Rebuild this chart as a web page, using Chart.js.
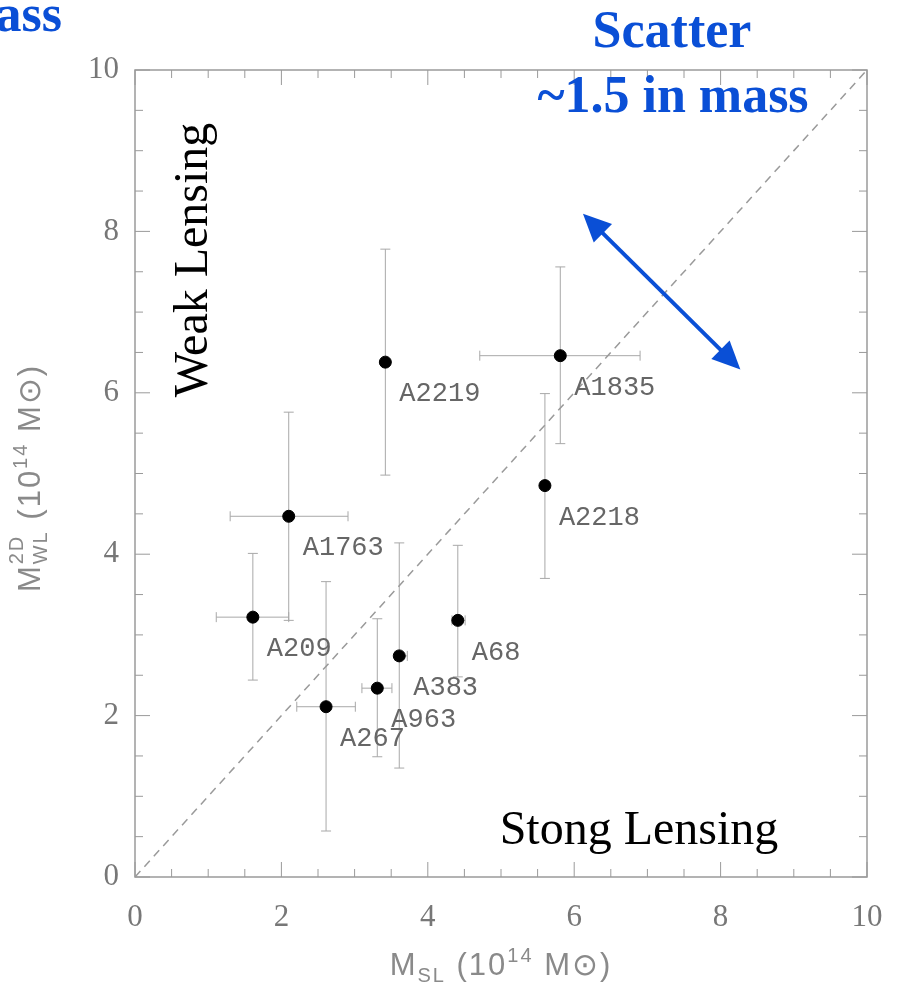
<!DOCTYPE html>
<html>
<head>
<meta charset="utf-8">
<script src="https://cdn.jsdelivr.net/npm/chart.js@4"></script>
<style>
  html, body { margin: 0; padding: 0; background: #fff; }
  #wrap { width: 905px; height: 983px; }
</style>
</head>
<body>
<div id="wrap"><canvas id="massChart" width="905" height="983"></canvas></div>
<script>
// Cluster masses (10^14 Msun): strong lensing (x) vs weak lensing 2D (y)
const clusters = ['A2219', 'A1835', 'A2218', 'A1763', 'A209', 'A68', 'A383', 'A963', 'A267'];
const mSL   = [3.42, 5.81, 5.60, 2.10, 1.61, 4.41, 3.61, 3.31, 2.61];
const mWL   = [6.38, 6.46, 4.85, 4.47, 3.22, 3.18, 2.74, 2.34, 2.11];
const mSLlo = [3.42, 4.71, 5.60, 1.30, 1.11, 4.33, 3.55, 3.10, 2.21];
const mSLhi = [3.42, 6.90, 5.60, 2.91, 2.10, 4.51, 3.72, 3.51, 3.01];
const mWLlo = [4.98, 5.37, 3.70, 3.18, 2.44, 2.48, 1.35, 1.49, 0.57];
const mWLhi = [7.78, 7.56, 5.99, 5.76, 4.01, 4.11, 4.14, 3.20, 3.66];
const axisTicks = [0, 2, 4, 6, 8, 10];
// one-to-one line and the scatter arrow, in data units
const unityLine = [[0, 0], [10, 10]];
const scatterArrow = [[6.12, 8.22], [8.27, 6.29]];

const BLUE = '#0a4fd6';
const GREY = '#9a9a9a';

const overlay = {
    id: 'overlay',
    beforeDatasetsDraw(chart) {
        const { ctx, chartArea: a, scales: { x, y } } = chart;
        ctx.save();
        // frame
        ctx.strokeStyle = GREY;
        ctx.lineWidth = 1.5;
        ctx.strokeRect(a.left, a.top, a.right - a.left, a.bottom - a.top);
        // inward ticks on all four sides, minor every 0.5
        ctx.lineWidth = 1;
        for (let v = 0; v <= 10; v += 0.5) {
            const len = v % 2 === 0 ? 15 : 8;
            const px = x.getPixelForValue(v);
            const py = y.getPixelForValue(v);
            ctx.beginPath();
            ctx.moveTo(px, a.bottom); ctx.lineTo(px, a.bottom - len);
            ctx.moveTo(px, a.top); ctx.lineTo(px, a.top + len);
            ctx.moveTo(a.left, py); ctx.lineTo(a.left + len, py);
            ctx.moveTo(a.right, py); ctx.lineTo(a.right - len, py);
            ctx.stroke();
        }
        // error bars
        ctx.strokeStyle = '#a8a8a8';
        clusters.forEach((name, i) => {
            const cx = x.getPixelForValue(mSL[i]);
            const cy = y.getPixelForValue(mWL[i]);
            const y0 = y.getPixelForValue(mWLlo[i]);
            const y1 = y.getPixelForValue(mWLhi[i]);
            ctx.beginPath();
            ctx.moveTo(cx, y0); ctx.lineTo(cx, y1);
            ctx.moveTo(cx - 5, y0); ctx.lineTo(cx + 5, y0);
            ctx.moveTo(cx - 5, y1); ctx.lineTo(cx + 5, y1);
            if (mSLhi[i] > mSLlo[i]) {
                const x0 = x.getPixelForValue(mSLlo[i]);
                const x1 = x.getPixelForValue(mSLhi[i]);
                ctx.moveTo(x0, cy); ctx.lineTo(x1, cy);
                ctx.moveTo(x0, cy - 5); ctx.lineTo(x0, cy + 5);
                ctx.moveTo(x1, cy - 5); ctx.lineTo(x1, cy + 5);
            }
            ctx.stroke();
        });
        ctx.restore();
    },
    afterDatasetsDraw(chart) {
        const { ctx, chartArea: a, scales: { x, y } } = chart;
        ctx.save();
        // cluster names
        ctx.fillStyle = '#666';
        ctx.font = '27px "Liberation Mono", monospace';
        ctx.textBaseline = 'middle';
        ctx.textAlign = 'left';
        clusters.forEach((name, i) => {
            ctx.fillText(name, x.getPixelForValue(mSL[i]) + 14, y.getPixelForValue(mWL[i]) + 32);
        });

        // axis titles
        ctx.fillStyle = '#8a8a8a';
        drawMathTitle(ctx, (a.left + a.right) / 2, 975, 'SL', null);
        ctx.save();
        ctx.translate(40, 478);
        ctx.rotate(-Math.PI / 2);
        drawMathTitle(ctx, 0, 0, 'WL', '2D');
        ctx.restore();

        // annotations
        ctx.fillStyle = '#000';
        ctx.font = '48px "Liberation Serif", serif';
        ctx.textAlign = 'center';
        ctx.textBaseline = 'alphabetic';
        ctx.fillText('Stong Lensing', 639, 844);
        ctx.save();
        ctx.translate(207, 260);
        ctx.rotate(-Math.PI / 2);
        ctx.fillText('Weak Lensing', 0, 0);
        ctx.restore();

        ctx.fillStyle = BLUE;
        ctx.font = 'bold 52px "Liberation Serif", serif';
        ctx.fillText('Scatter', 672, 47);
        ctx.fillText('~1.5 in mass', 673, 112);
        ctx.textAlign = 'right';
        ctx.fillText('mass', 62, 31);

        // double-headed arrow
        const p0 = [x.getPixelForValue(scatterArrow[0][0]), y.getPixelForValue(scatterArrow[0][1])];
        const p1 = [x.getPixelForValue(scatterArrow[1][0]), y.getPixelForValue(scatterArrow[1][1])];
        const ang = Math.atan2(p1[1] - p0[1], p1[0] - p0[0]);
        const head = 28, half = 13;
        ctx.strokeStyle = BLUE;
        ctx.lineWidth = 4;
        ctx.beginPath();
        ctx.moveTo(p0[0] + Math.cos(ang) * head * 0.8, p0[1] + Math.sin(ang) * head * 0.8);
        ctx.lineTo(p1[0] - Math.cos(ang) * head * 0.8, p1[1] - Math.sin(ang) * head * 0.8);
        ctx.stroke();
        [[p0, ang], [p1, ang + Math.PI]].forEach(([p, t]) => {
            const bx = p[0] + Math.cos(t) * head, by = p[1] + Math.sin(t) * head;
            ctx.beginPath();
            ctx.moveTo(p[0], p[1]);
            ctx.lineTo(bx - Math.sin(t) * half, by + Math.cos(t) * half);
            ctx.lineTo(bx + Math.sin(t) * half, by - Math.cos(t) * half);
            ctx.closePath();
            ctx.fill();
        });
        ctx.restore();
    }
};

// M_sub (10^14 M_sun) with optional superscript on M
function drawMathTitle(ctx, cx, baseline, sub, sup) {
    const big = '31px "Liberation Sans", sans-serif';
    const small = '20px "Liberation Sans", sans-serif';
    ctx.letterSpacing = '2px';
    const parts = [
        ['M', big, 0],
        [sub, small, 7],
        ...(sup ? [[sup, small, -17]] : []),
        [' (10', big, 0],
        ['14', small, -13],
        [' M\u2299)', big, 0]
    ];
    const widths = parts.map(([t, f]) => { ctx.font = f; return ctx.measureText(t).width; });
    let total = 0;
    // superscript sits over the subscript, not after it
    parts.forEach((p, i) => {
        if (sup && i === 2) total += Math.max(0, widths[2] - widths[1]);
        else total += widths[i];
    });
    let px = cx - total / 2;
    ctx.textAlign = 'left';
    ctx.textBaseline = 'alphabetic';
    parts.forEach(([t, f, dy], i) => {
        ctx.font = f;
        if (sup && i === 2) {
            ctx.fillText(t, px - widths[1], baseline + dy);
            px += Math.max(0, widths[2] - widths[1]);
            return;
        }
        ctx.fillText(t, px, baseline + dy);
        px += widths[i];
    });
    ctx.letterSpacing = '0px';
}

const tickFont = { family: '"Liberation Serif", serif', size: 31 };

new Chart(document.getElementById('massChart'), {
    type: 'scatter',
    data: {
        datasets: [
            {
                type: 'line',
                data: unityLine.map(([a, b]) => ({ x: a, y: b })),
                borderColor: '#9a9a9a',
                borderWidth: 1.5,
                borderDash: [8, 6],
                pointRadius: 0,
                fill: false
            },
            {
                data: mSL.map((v, i) => ({ x: v, y: mWL[i] })),
                backgroundColor: '#000',
                borderColor: '#000',
                pointRadius: 6,
                pointHoverRadius: 6
            }
        ]
    },
    options: {
        responsive: false,
        animation: false,
        layout: { padding: { left: 0, top: 70, right: 38, bottom: 0 } },
        plugins: { legend: { display: false }, tooltip: { enabled: false } },
        scales: {
            x: {
                type: 'linear', min: 0, max: 10,
                afterFit: s => { s.height = 106; },
                afterBuildTicks: s => { s.ticks = axisTicks.map(v => ({ value: v })); },
                grid: { display: false, drawTicks: false },
                border: { display: false },
                ticks: { color: '#777', font: tickFont, padding: 22, maxRotation: 0 }
            },
            y: {
                type: 'linear', min: 0, max: 10,
                afterFit: s => { s.width = 135; },
                afterBuildTicks: s => { s.ticks = axisTicks.map(v => ({ value: v })); },
                grid: { display: false, drawTicks: false },
                border: { display: false },
                ticks: { color: '#777', font: tickFont, padding: 16 }
            }
        }
    },
    plugins: [overlay]
});
</script>
</body>
</html>
